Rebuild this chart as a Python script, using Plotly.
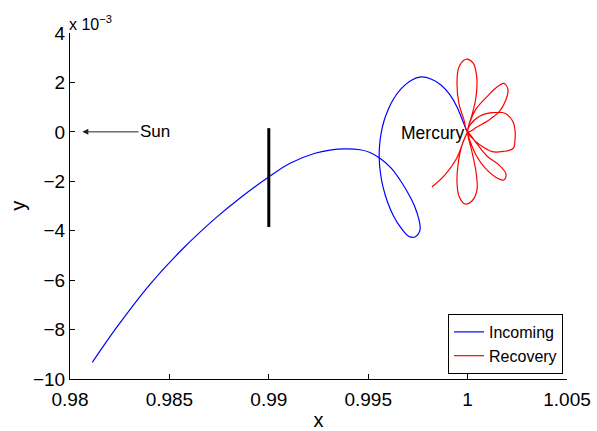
import plotly.graph_objects as go

# Incoming transfer trajectory (x in normalised units, y in units of 1e-3)
incoming_x = [0.981122, 0.982364, 0.984024, 0.985699, 0.987379, 0.988637, 0.989960,
              0.991066, 0.992324, 0.993079, 0.993833, 0.994588, 0.995091, 0.995594,
              0.996147, 0.996600, 0.997002, 0.997329, 0.997555, 0.997606, 0.997379,
              0.997052, 0.996650, 0.996273, 0.995971, 0.995745, 0.995609, 0.995553,
              0.995574, 0.995654, 0.995795, 0.995996, 0.996273, 0.996650, 0.997153,
              0.997656, 0.998159, 0.998662, 0.999115, 0.999467, 0.999718, 0.999920,
              1.000000]
incoming_y = [-9.324, -7.892, -6.168, -4.711, -3.452, -2.622, -1.845,
              -1.271, -0.866, -0.737, -0.692, -0.724, -0.834, -1.068,
              -1.461, -1.947, -2.473, -2.999, -3.565, -3.970, -4.241,
              -4.233, -3.889, -3.403, -2.837, -2.230, -1.623, -1.056,
              -0.530, -0.045, 0.441, 0.886, 1.331, 1.736, 2.080,
              2.222, 2.141, 1.898, 1.493, 1.008, 0.522, 0.117,
              0.000]

# Recovery trajectory looping around Mercury
recovery_x = [0.998209, 0.998863, 0.999452, 0.999784, 1.000000,
              0.999718, 0.999517, 0.999467, 0.999567, 0.999869, 1.000221, 1.000473,
              1.000423, 1.000221, 1.000020, 1.000000,
              1.000473, 1.001026, 1.001580, 1.001932, 1.001831, 1.001479, 1.000875,
              1.000423, 1.000121, 1.000000,
              1.000121, 1.000624, 1.001227, 1.001881, 1.002284, 1.002384, 1.002384,
              1.002299, 1.001781, 1.001227, 1.000624, 1.000171, 1.000000,
              1.000121, 1.000423, 1.000976, 1.001479, 1.001831, 1.002032, 1.001881,
              1.001580, 1.001076, 1.000473, 1.000000,
              0.999819, 0.999567, 0.999467, 0.999567, 0.999920, 1.000272, 1.000458,
              1.000423, 1.000221, 1.000020, 1.000000]
recovery_y = [-2.230, -1.744, -1.068, -0.397, 0.000,
              -0.530, -1.340, -2.028, -2.594, -2.918, -2.796, -2.351,
              -1.623, -0.813, -0.166, 0.000,
              -0.490, -1.016, -1.340, -1.704, -1.947, -1.866, -1.461,
              -0.935, -0.368, 0.000,
              0.279, 0.643, 0.777, 0.753, 0.413, 0.077, -0.328,
              -0.664, -0.793, -0.801, -0.530, -0.206, 0.000,
              0.401, 0.927, 1.425, 1.817, 1.959, 1.696, 1.210,
              0.805, 0.482, 0.198, 0.000,
              0.482, 1.129, 1.979, 2.626, 2.938, 2.788, 2.222,
              1.412, 0.684, 0.158, 0.000]

# Section line at x = 0.99
section_x = [0.99, 0.99]
section_y = [-3.85, 0.15]

x_ticks = [0.98, 0.985, 0.99, 0.995, 1.0, 1.005]
x_tick_text = ["0.98", "0.985", "0.99", "0.995", "1", "1.005"]
y_ticks = [4, 2, 0, -2, -4, -6, -8, -10]

sun_tip = (0.98062, 0.0)
sun_label = (0.984276, 0.0)
mercury_label = (0.99995, 0.0)

FONT = "Liberation Sans, Arial, Helvetica, sans-serif"

fig = go.Figure()
fig.add_trace(go.Scatter(x=incoming_x, y=incoming_y, mode="lines", name="Incoming",
                         line=dict(color="#0000ff", width=1.2, shape="spline", smoothing=1.0)))
fig.add_trace(go.Scatter(x=recovery_x, y=recovery_y, mode="lines", name="Recovery",
                         line=dict(color="#ff0000", width=1.2, shape="spline", smoothing=1.0)))
fig.add_trace(go.Scatter(x=section_x, y=section_y, mode="lines", showlegend=False,
                         line=dict(color="black", width=3)))

fig.add_annotation(x=sun_tip[0], y=sun_tip[1], ax=sun_label[0], ay=sun_label[1],
                   axref="x", ayref="y", xref="x", yref="y", text="Sun",
                   showarrow=True, arrowhead=2, arrowsize=1.2, arrowwidth=1,
                   arrowcolor="#222222", font=dict(size=17, color="black", family=FONT))
fig.add_annotation(x=mercury_label[0], y=mercury_label[1], xref="x", yref="y",
                   text="Mercury", showarrow=False, xanchor="right", yanchor="middle",
                   yshift=-1, xshift=-1, font=dict(size=17.5, color="black", family=FONT))
fig.add_annotation(x=0, y=1, xref="paper", yref="paper", xanchor="left", yanchor="bottom",
                   text="x 10<sup>−3</sup>", showarrow=False, yshift=-2, xshift=-3,
                   font=dict(size=16, color="black", family=FONT))
# y-axis label placed beside the tick labels
fig.add_annotation(x=-0.105, y=0.5, xref="paper", yref="paper", xanchor="center",
                   yanchor="middle", text="y", textangle=-90, showarrow=False,
                   font=dict(size=20, color="black", family=FONT))

fig.update_layout(
    width=597, height=431,
    margin=dict(l=70, r=30, t=33, b=52),
    paper_bgcolor="white", plot_bgcolor="white",
    font=dict(family=FONT, size=19, color="black"),
    showlegend=True,
    legend=dict(x=0.992, y=0.0145, xanchor="right", yanchor="bottom",
                bgcolor="white", bordercolor="black", borderwidth=1,
                font=dict(size=16), itemwidth=30, tracegroupgap=0),
)
fig.update_xaxes(range=[0.98, 1.005], tickvals=x_ticks, ticktext=x_tick_text,
                 automargin=False,
                 showgrid=False, zeroline=False, showline=True, linecolor="black",
                 linewidth=1, ticks="inside", ticklen=5, tickcolor="black",
                 ticklabelstandoff=3,
                 title=dict(text="x", standoff=8, font=dict(size=20)))
fig.update_yaxes(range=[-10, 4], tickvals=y_ticks, automargin=False,
                 showgrid=False, zeroline=False, showline=True, linecolor="black",
                 linewidth=1, ticks="inside", ticklen=5, tickcolor="black")

fig.write_html("out.html")
